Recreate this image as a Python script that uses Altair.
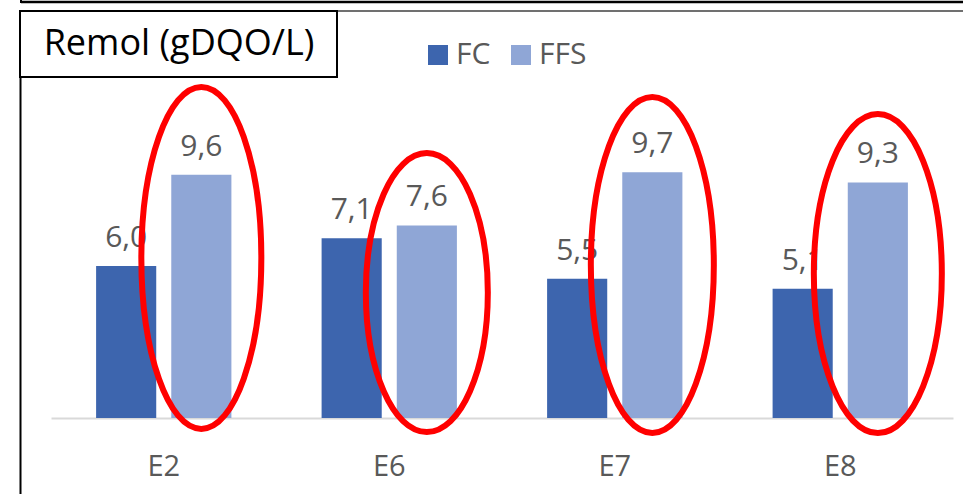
import altair as alt
import pandas as pd

# ---- data ----
categories = ["E2", "E6", "E7", "E8"]
series = ["FC", "FFS"]
fc_values = [6.0, 7.1, 5.5, 5.1]
ffs_values = [9.6, 7.6, 9.7, 9.3]
title_text = "Remol (gDQO/L)"

# red annotation ellipses around the FFS bars
ellipse_center = [6.32, 4.95, 6.04, 5.70]   # centre, in value units
ellipse_rx = [60, 61, 61.5, 64]             # half width, px (style)
ellipse_ry = [171, 139.5, 168, 159.5]       # half height, px (style)

colors = ["#3D65AE", "#8FA6D6"]
FONT = "Open Sans"
GREY = "#595959"

rows = []
for c, a, b in zip(categories, fc_values, ffs_values):
    rows.append({"cat": c, "series": "FC", "value": a})
    rows.append({"cat": c, "series": "FFS", "value": b})
df = pd.DataFrame(rows)
df["label"] = df["value"].map(lambda v: f"{v:.1f}".replace(".", ","))


def ellipse_path(rx, ry):
    r = rx / ry
    k = 0.5523
    return (f"M 0 -1 C {k*r} -1 {r} {-k} {r} 0 C {r} {k} {k*r} 1 0 1 "
            f"C {-k*r} 1 {-r} {k} {-r} 0 C {-r} {-k} {-k*r} -1 0 -1 Z")


edf = pd.DataFrame({
    "cat": categories,
    "series": ["FFS"] * 4,
    "cy": ellipse_center,
    "path": [ellipse_path(a, b) for a, b in zip(ellipse_rx, ellipse_ry)],
    "sz": [(2 * b) ** 2 for b in ellipse_ry],
})

W, H = 902, 304
PL, PT = 51, 114

xenc = alt.X("cat:N", scale=alt.Scale(domain=categories, paddingInner=0.4, paddingOuter=0.2),
             axis=alt.Axis(title=None, labelFontSize=29, labelColor=GREY, labelFont=FONT,
                           ticks=False, domainColor="#D9D9D9", domainWidth=2,
                           labelPadding=34, labelAngle=0, grid=False))
xoff = alt.XOffset("series:N", scale=alt.Scale(domain=series, paddingInner=0.2, paddingOuter=0))
yenc = alt.Y("value:Q", scale=alt.Scale(domain=[0, 12]), axis=None)

bars = alt.Chart(df).mark_bar().encode(
    x=xenc, xOffset=xoff, y=yenc,
    color=alt.Color("series:N", scale=alt.Scale(domain=series, range=colors),
                    legend=alt.Legend(orient="none", legendX=372, legendY=-74,
                                      direction="horizontal", title=None,
                                      symbolType="square", symbolSize=400,
                                      symbolStrokeWidth=0, labelFontSize=30,
                                      labelColor=GREY, labelFont=FONT,
                                      columnPadding=15, labelOffset=3, padding=0)),
)

labels = alt.Chart(df).mark_text(font=FONT, fontSize=30, color=GREY,
                                 baseline="alphabetic", dy=-19).encode(
    x=xenc, xOffset=xoff, y=yenc, text="label:N")

ellipses = alt.Chart(edf).mark_point(filled=False, stroke="#FF0000", strokeWidth=6,
                                     opacity=1).encode(
    x=xenc, xOffset=xoff,
    y=alt.Y("cy:Q", scale=alt.Scale(domain=[0, 12]), axis=None),
    shape=alt.Shape("path:N", scale=None),
    size=alt.Size("sz:Q", scale=None),
)

# frame decorations (pixel positions relative to plot origin)
deco = alt.Chart(pd.DataFrame({"d": [0]}))
top_line = deco.mark_rule(color="#000000", strokeWidth=2.5).encode(
    x=alt.value(-30), x2=alt.value(912), y=alt.value(-112))
top_tick = deco.mark_rule(color="#000000", strokeWidth=2).encode(
    x=alt.value(-30), y=alt.value(-114), y2=alt.value(-111))
border_top = deco.mark_rule(color="#404040", strokeWidth=1.5).encode(
    x=alt.value(286), x2=alt.value(912), y=alt.value(-103))
border_left = deco.mark_rule(color="#000000", strokeWidth=2).encode(
    x=alt.value(-30.5), y=alt.value(-37), y2=alt.value(380))
box = deco.mark_rect(fill="white", stroke="#000000", strokeWidth=2).encode(
    x=alt.value(-31), x2=alt.value(286), y=alt.value(-103), y2=alt.value(-37))
title = deco.mark_text(font=FONT, fontSize=36, color="#000000",
                       baseline="middle", align="center").encode(
    x=alt.value(128), y=alt.value(-70), text=alt.value(title_text))

chart = alt.layer(top_line, top_tick, border_top, border_left, box, title,
                  bars, labels, ellipses).properties(
    width=W, height=H,
    autosize=alt.AutoSizeParams(type="none"),
    padding={"left": PL, "top": PT, "right": 963 - PL - W, "bottom": 494 - PT - H},
).configure_view(stroke=None)

chart.save("out.html", embed_options={"renderer": "svg", "actions": False})
